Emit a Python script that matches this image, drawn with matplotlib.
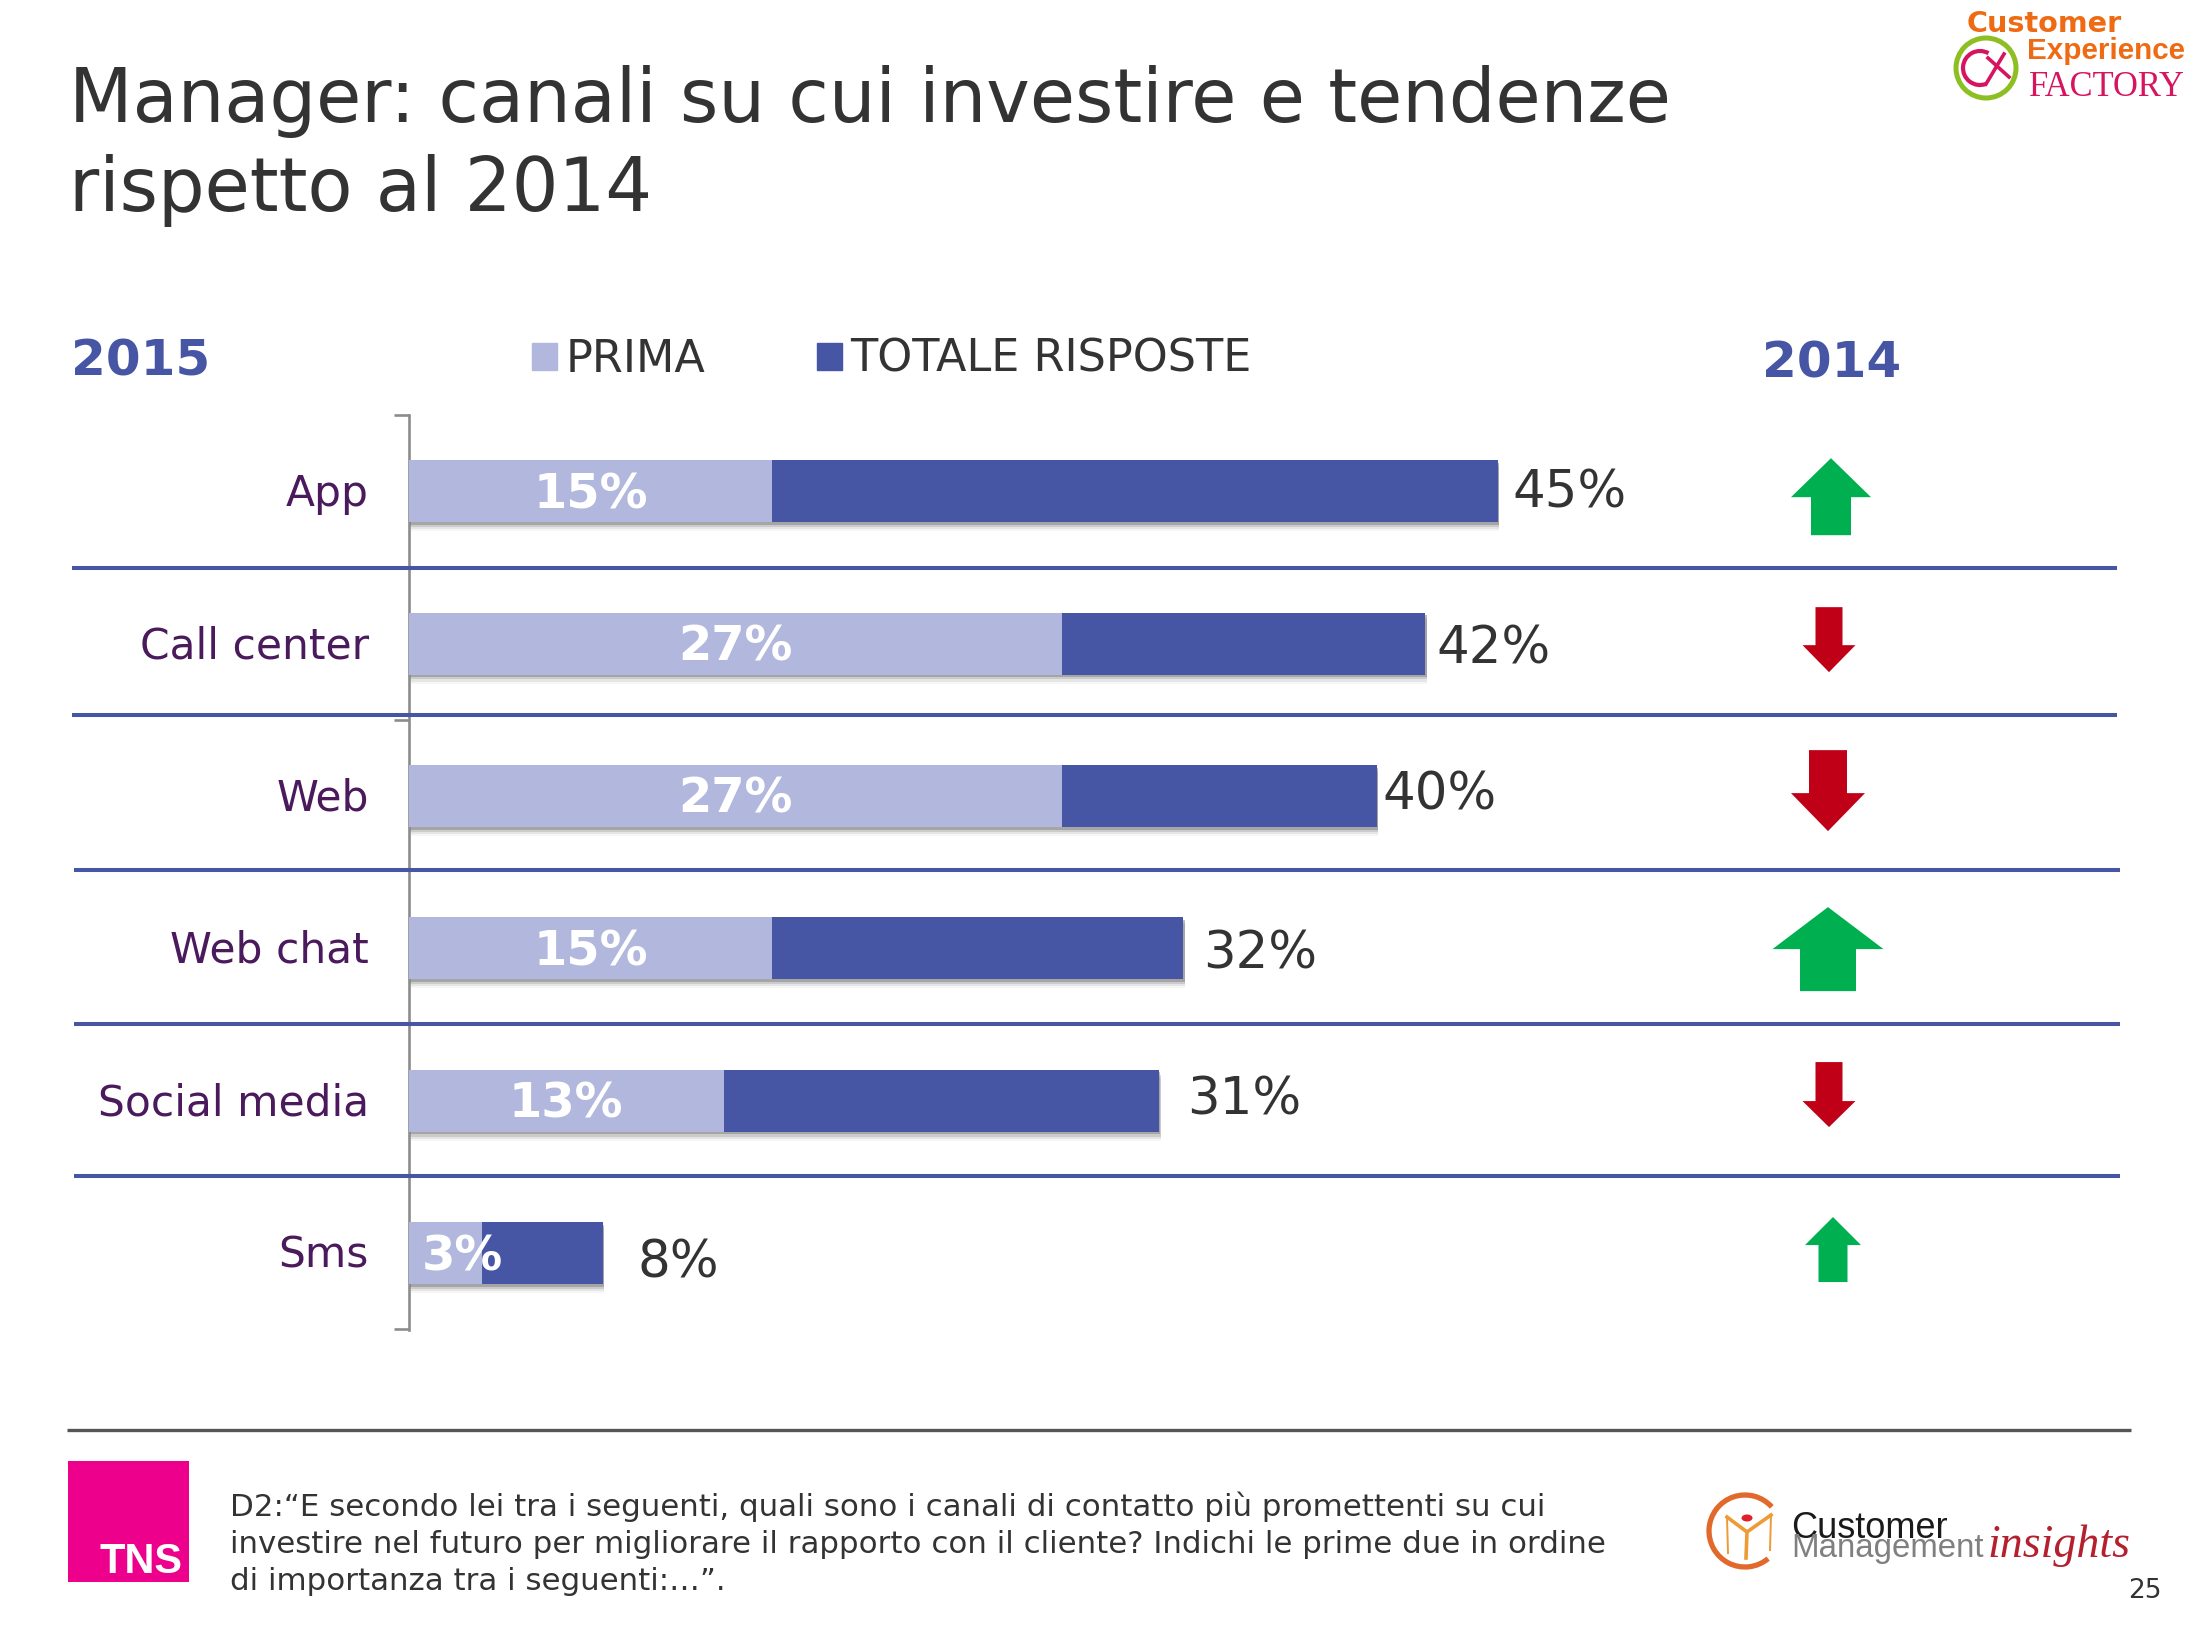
import matplotlib
matplotlib.use("Agg")
import matplotlib.pyplot as plt
import matplotlib.patheffects as pe
from matplotlib.patches import Patch, Polygon, Arc, Ellipse, Rectangle
from matplotlib.transforms import ScaledTranslation

# ---------- data ----------
categories = ["App", "Call center", "Web", "Web chat", "Social media", "Sms"]
prima = [15, 27, 27, 15, 13, 3]
totale = [45, 42, 40, 32, 31, 8]
trend_2014 = ["up", "down", "down", "up", "down", "up"]

title_lines = ["Manager: canali su cui investire e tendenze", "rispetto al 2014"]
note_lines = [
    "D2:\u201cE secondo lei tra i seguenti, quali sono i canali di contatto più promettenti su cui",
    "investire nel futuro per migliorare il rapporto con il cliente? Indichi le prime due in ordine",
    "di importanza tra i seguenti:\u2026\u201d.",
]

# ---------- style ----------
W, H = 2200, 1650
LIGHT, DARK = "#B2B8DD", "#4756A4"
TXT, PURPLE = "#333333", "#4A1A5C"
GREEN, RED = "#00B050", "#C00017"
value_gap = [14, 11, 5, 20, 28, 35]
value_dy = [16, 20, 14, 20, 14, 24]
inner_dx = [0, 0, 0, 0, 0, 17]
# centre x, centre offset from row, length, head length, head width, shaft width
arrow_style = [
    (1831, 5.5, 77, 39, 80, 40),
    (1829, -3.9, 65, 27, 53, 27),
    (1828, -5.3, 81, 38, 74, 38),
    (1828, 0.8, 84, 42, 111, 56),
    (1829, -6.1, 65, 26, 53, 27),
    (1833, -3.5, 65, 28, 56, 29),
]
separators = [(72, 2117, 568), (72, 2117, 715), (74, 2120, 870), (74, 2120, 1024), (74, 2120, 1176)]

plt.rcParams["font.family"] = ["DejaVu Sans"]
fig = plt.figure(figsize=(W / 100, H / 100), dpi=100, facecolor="white")


def px_rect(x0, y0, x1, y1):
    return [x0 / W, 1 - y1 / H, (x1 - x0) / W, (y1 - y0) / H]


# ---------- bars ----------
ax = fig.add_axes(px_rect(409, 415, 2200, 1330))
ax.patch.set_alpha(0)
ax.set_xlim(0, (2200 - 409) / 24.2)
ax.set_ylim(5.505, -0.4987)
rows = list(range(len(categories)))
shadow = [
    pe.SimplePatchShadow(offset=(1.0, -6.5), shadow_rgbFace="#AAAAAA", alpha=0.10),
    pe.SimplePatchShadow(offset=(1.0, -5.0), shadow_rgbFace="#999999", alpha=0.18),
    pe.SimplePatchShadow(offset=(1.0, -3.5), shadow_rgbFace="#888888", alpha=0.28),
    pe.SimplePatchShadow(offset=(0.8, -2.0), shadow_rgbFace="#777777", alpha=0.45),
    pe.Normal(),
]
rest = [t - p for t, p in zip(totale, prima)]
ax.barh(rows, prima, height=0.407, color=LIGHT, path_effects=shadow, zorder=3)
ax.barh(rows, rest, left=prima, height=0.407, color=DARK, path_effects=shadow, zorder=3)

for s in ["top", "right", "bottom"]:
    ax.spines[s].set_visible(False)
ax.spines["left"].set_color("#8C8C8C")
ax.spines["left"].set_linewidth(1.9)
ax.set_xticks([])
ax.set_yticks(rows, categories, fontsize=30.5, color=PURPLE)
ax.tick_params(axis="y", which="major", length=0, pad=29)
ax.set_yticks([-0.5, 1.5, 5.5], minor=True)
ax.tick_params(axis="y", which="minor", length=11, width=1.9, color="#8C8C8C")
for lab in ax.get_yticklabels():
    lab.set_transform(lab.get_transform() + ScaledTranslation(0, 2.0 / 100, fig.dpi_scale_trans))

for i, (p, t) in enumerate(zip(prima, totale)):
    ax.annotate(f"{p}%", (p / 2, i), xytext=(inner_dx[i], -17), textcoords="offset pixels",
                ha="center", va="baseline", color="white", fontsize=34.5, fontweight="bold", zorder=5)
    ax.annotate(f"{t}%", (t, i), xytext=(value_gap[i], -value_dy[i]), textcoords="offset pixels",
                ha="left", va="baseline", color=TXT, fontsize=37, zorder=5)

ax.legend(
    handles=[Patch(color=LIGHT, label="PRIMA"), Patch(color=DARK, label="TOTALE RISPOSTE")],
    ncol=2, loc="lower left", bbox_to_anchor=(532 / W, 1 - 381 / H), bbox_transform=fig.transFigure,
    frameon=False, fontsize=32, labelcolor=TXT, handlelength=0.56, handleheight=0.56,
    handletextpad=0.2, columnspacing=2.5, borderpad=0, borderaxespad=0,
)

# ---------- page overlay in pixel coordinates ----------
pg = fig.add_axes([0, 0, 1, 1], zorder=10)
pg.set_xlim(0, W)
pg.set_ylim(H, 0)
pg.set_axis_off()
pg.patch.set_alpha(0)
renderer = fig.canvas.get_renderer()


def fit(t, width):
    t.set_fontsize(t.get_fontsize() * width / t.get_window_extent(renderer).width)
    return t.get_fontsize()


# title
t0 = pg.text(69, 122, title_lines[0], fontsize=58, color=TXT, va="baseline")
size = fit(t0, 1602)
pg.text(69, 211, title_lines[1], fontsize=size, color=TXT, va="baseline")

# year headers
pg.text(71, 375, "2015", fontsize=36, fontweight="bold", color=DARK, va="baseline")
pg.text(1762, 378, "2014", fontsize=36, fontweight="bold", color=DARK, va="baseline")

# separators
for x0, x1, y in separators:
    pg.plot([x0, x1], [y, y], color=DARK, lw=2.9, solid_capstyle="butt")

# trend arrows
row_y = ax.transData.transform([(0, i) for i in rows])[:, 1]
for i, (kind, st) in enumerate(zip(trend_2014, arrow_style)):
    cx, dy, length, head, hw, sw = st
    cy = H - row_y[i] + dy
    sgn = -1 if kind == "up" else 1
    tip = cy + sgn * length / 2
    tail = cy - sgn * length / 2
    neck = tip - sgn * head
    pg.add_patch(Polygon(
        [(cx, tip), (cx + hw / 2, neck), (cx + sw / 2, neck), (cx + sw / 2, tail),
         (cx - sw / 2, tail), (cx - sw / 2, neck), (cx - hw / 2, neck)],
        closed=True, facecolor=GREEN if kind == "up" else RED, edgecolor="none"))

# footer
pg.plot([67, 2131], [1430, 1430], color="#555555", lw=2.4, solid_capstyle="butt")
pg.add_patch(Rectangle((68, 1461), 121, 121, facecolor="#EC008C", edgecolor="none"))
fit(pg.text(99, 1573, "TNS", fontsize=30, fontweight="bold", family="Liberation Sans", color="white", va="baseline"), 83)
n1 = pg.text(230, 1516, note_lines[1], fontsize=20, color=TXT, va="baseline")
nsize = fit(n1, 1376)
n1.set_position((230, 1553))
pg.text(230, 1516, note_lines[0], fontsize=nsize, color=TXT, va="baseline")
pg.text(230, 1590, note_lines[2], fontsize=nsize, color=TXT, va="baseline")
pg.text(2128, 1598, "25", fontsize=19, color=TXT, va="baseline")

# Customer Experience Factory logo
fit(pg.text(1967, 32, "Customer", fontsize=20, fontweight="bold", color="#EE6A13", family="DejaVu Sans", va="baseline"), 155)
fit(pg.text(2027, 59, "Experience", fontsize=20, fontweight="bold", color="#EE6A13", family="Liberation Sans", va="baseline"), 158)
fit(pg.text(2029, 96, "FACTORY", fontsize=20, color="#D6145F", family="Liberation Serif", va="baseline"), 156)
pg.add_patch(Ellipse((1986, 68), 60, 60, facecolor="none", edgecolor="#8DBE22", lw=3.6))
pg.add_patch(Arc((1980, 68), 34, 34, theta1=70, theta2=300, edgecolor="#D6145F", lw=3))
pg.plot([1988, 2009], [58, 77], color="#D6145F", lw=2.6)
pg.plot([2004, 1986], [54, 84], color="#D6145F", lw=2.6)

# Customer Management Insights logo
pg.add_patch(Arc((1745, 1531), 72, 72, theta1=50, theta2=318, edgecolor="#E2692C", lw=3.8))
pg.add_patch(Ellipse((1747, 1518), 11, 7, facecolor="#E0202A", edgecolor="none"))
pg.plot([1727, 1747, 1771], [1517, 1532, 1515], color="#EE9A35", lw=2.6)
pg.plot([1747, 1746], [1532, 1558], color="#EE9A35", lw=2.6)
pg.plot([1727, 1728], [1517, 1553], color="#EE9A35", lw=1.4)
pg.plot([1771, 1770], [1515, 1550], color="#EE9A35", lw=1.4)
fit(pg.text(1791, 1538, "Customer", fontsize=20, color="#1A1A1A", family="Liberation Sans", va="baseline"), 156)
fit(pg.text(1791, 1557, "Management", fontsize=20, color="#808080", family="Liberation Sans", va="baseline"), 192)
fit(pg.text(1987, 1557, "insights", fontsize=24, color="#B5202F", family="Liberation Serif", style="italic", va="baseline"), 143)

fig.savefig("out.png", dpi=100)
